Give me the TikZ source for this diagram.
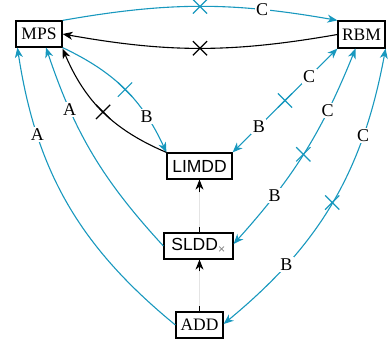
\documentclass[tikz,border=0pt]{standalone}
\usepackage{fontspec}
\setmainfont{Liberation Serif}
\newfontfamily\sansfam{Liberation Sans}
\usetikzlibrary{arrows.meta,shapes.misc}
\definecolor{linkblue}{RGB}{24,152,190}
\definecolor{faintgray}{RGB}{228,228,228}
\begin{document}
\begin{tikzpicture}[x=1pt,y=1pt,
  model/.style={draw, line width=1.2pt, inner sep=0pt, text=black,
    font=\fontsize{17.5}{20}\selectfont},
  tip/.style={-{Stealth[length=10pt,width=8pt,inset=3pt]}},
  both/.style={{Stealth[length=10pt,width=8pt,inset=3pt]}-{Stealth[length=10pt,width=8pt,inset=3pt]}},
  blueline/.style={linkblue, line width=1.1pt},
  blackline/.style={black, line width=1.1pt},
  lab/.style={fill=white, text=black, inner sep=1.5pt,
    font=\fontsize{18}{20}\selectfont},
  xmark/.style={cross out, draw, minimum size=13pt, inner sep=0pt, line width=1.2pt},
]
\useasboundingbox (0,0) rectangle (388,-348);

% representations
\node[model, minimum width=46pt, minimum height=26pt] (MPS) at (39,-34) {MPS};
\node[model, minimum width=47pt, minimum height=27pt] (RBM) at (361.5,-34.5) {RBM};
\node[model, minimum width=65pt, minimum height=26pt, font=\sansfam\fontsize{17.5}{20}\selectfont] (LIMDD) at (199.5,-166) {LIMDD};
\node[model, minimum width=69pt, minimum height=26pt, font=\sansfam\fontsize{17.5}{20}\selectfont] (SLDD) at (198.5,-246) {SLDD\textsubscript{\color{gray}×}};
\node[model, minimum width=47pt, minimum height=26pt] (ADD) at (199.5,-325) {ADD};

% top pair
\draw[blueline, tip] (MPS.north east) to[bend left=10]
  node[xmark, pos=0.5]{} node[lab, pos=0.74]{C} (RBM.north west);
\draw[blackline, tip] (RBM.west) to[bend left=10]
  node[xmark, pos=0.5]{} (MPS.east);

% MPS and LIMDD
\draw[blueline, tip] (MPS.south east) to[bend left=20]
  node[xmark, pos=0.5]{} node[lab, pos=0.74]{B} (LIMDD.north west);
\draw[blackline, tip] (LIMDD.north west) to[bend left=22]
  node[xmark, pos=0.5]{} ([yshift=-1pt]MPS.south east);

% RBM and the decision diagrams
\draw[blueline, both] (LIMDD.north east) --
  node[lab, pos=0.25]{B} node[xmark, pos=0.5]{} node[lab, pos=0.73]{C} (RBM.south west);
\draw[blueline, both] ([yshift=2pt]SLDD.east) to[bend right=10]
  node[lab, pos=0.26]{B} node[xmark, pos=0.49]{} node[lab, pos=0.72]{C} ([xshift=-6pt]RBM.south);
\draw[blueline, both] ([yshift=1pt]ADD.east) to[bend right=20]
  node[lab, pos=0.25]{B} node[xmark, pos=0.5]{} node[lab, pos=0.74]{C} (RBM.south east);

% MPS and the decision diagrams
\draw[blueline, tip] (SLDD.west) to[bend left=12]
  node[lab, pos=0.73]{A} ([xshift=7pt]MPS.south);
\draw[blueline, tip] (ADD.west) to[bend left=21]
  node[lab, pos=0.74]{A} ([xshift=2pt]MPS.south west);

% vertical inclusions
\coordinate (addtop) at (ADD.north);
\coordinate (sldbot) at (addtop |- SLDD.south);
\coordinate (sldtop) at (addtop |- SLDD.north);
\coordinate (limbot) at (addtop |- LIMDD.south);
\draw[faintgray, line width=0.8pt] (addtop) -- (sldbot);
\draw[blackline, shorten >=46pt] (addtop) -- (sldbot);
\draw[blackline, tip, shorten <=40pt] (addtop) -- (sldbot);
\draw[faintgray, line width=0.8pt] (sldtop) -- (limbot);
\draw[blackline, shorten >=47pt] (sldtop) -- (limbot);
\draw[blackline, tip, shorten <=40pt] (sldtop) -- (limbot);
\end{tikzpicture}
\end{document}
